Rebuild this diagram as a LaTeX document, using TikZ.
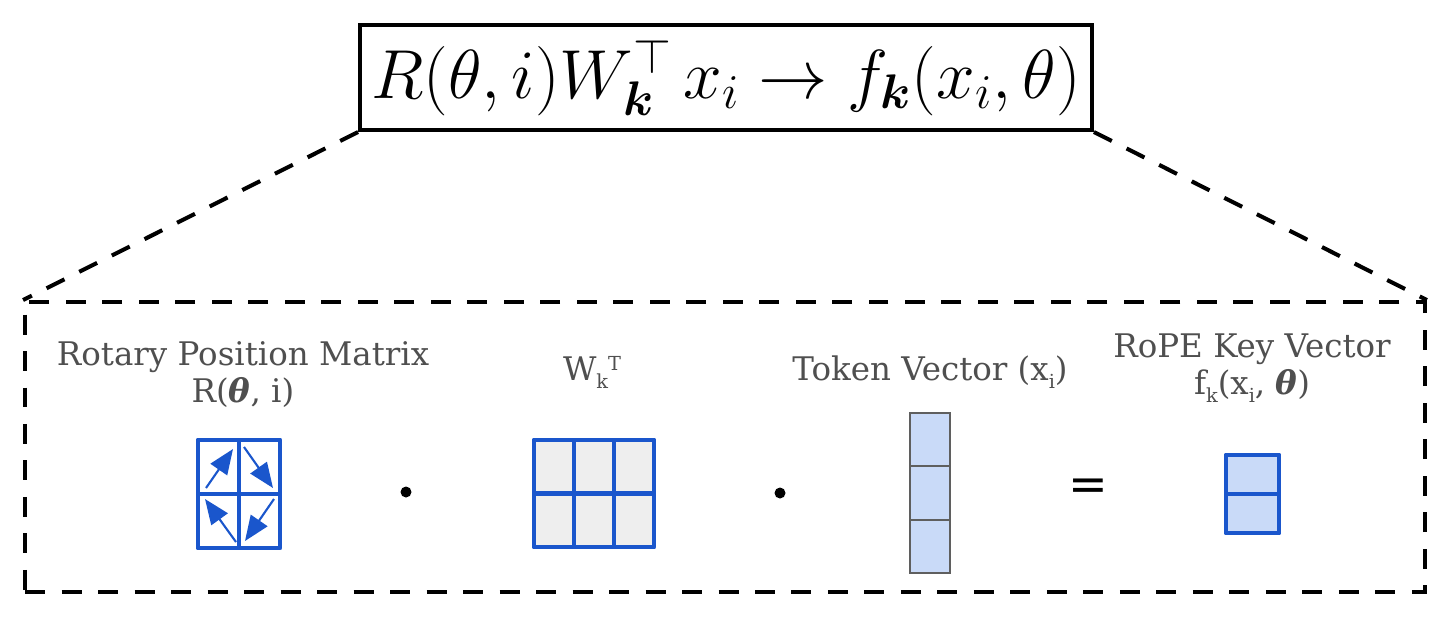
\documentclass[tikz,border=0pt]{standalone}
\usepackage{fix-cm}
\usepackage{amsmath}
\usepackage[no-math]{fontspec}
\setmainfont{DejaVu Serif}
\newfontfamily\eqfont{DejaVu Sans}
\usetikzlibrary{arrows.meta}
\definecolor{matblue}{HTML}{1A56CC}
\definecolor{vecfill}{HTML}{C9DAF8}
\definecolor{cellgray}{HTML}{EEEEEE}
\definecolor{lblgray}{HTML}{4F4F4F}
\definecolor{vecedge}{HTML}{5F5F5F}
\newcommand{\lowsub}[1]{\raisebox{-5pt}{\fontsize{11}{11}\selectfont #1}}
\newcommand{\lowsup}[1]{\raisebox{5.5pt}{\fontsize{11}{11}\selectfont #1}}

\begin{document}
\begin{tikzpicture}[x=0.02cm, y=-0.02cm,
  lbl/.style = {text=lblgray, align=center, inner sep=0pt,
    font=\fontsize{18.5}{21}\selectfont},
  frame line/.style = {line width=2.3pt, dash pattern=on 0.4cm off 0.33cm},
  bluecell/.style = {draw=matblue, line width=2.8pt, line join=round},
  graycell/.style = {draw=vecedge, line width=1.1pt, fill=vecfill},
  rotarrow/.style = {draw=matblue, fill=matblue, line width=1.2pt,
    -{Triangle[length=0.5cm, width=0.4cm]}}]
  \useasboundingbox (0,0) rectangle (1456,620);
  \node (title) at (726,77.5) [draw, line width=2.3pt, minimum width=14.64cm,
    minimum height=2.1cm, inner sep=0pt]
    {\fontsize{39.5}{42}\selectfont $R(\theta,i)W_{\boldsymbol{k}}^{\top}\,x_i\rightarrow f_{\boldsymbol{k}}(x_i,\theta)$};
  \node (frame) at (725,447) [frame line, draw, minimum width=28cm, minimum height=5.8cm] {};
  \draw[frame line] (title.south west) -- (frame.north west);
  \draw[frame line] (title.south east) -- (frame.north east);

  \node (rotlbl) at (243,402) [lbl, anchor=base]
    {Rotary Position Matrix\\R({\bfseries\itshape θ}, i)};
  \node (wlbl) at (592,380) [lbl, anchor=base] {W\lowsub{k}\lowsup{T}};
  \node (toklbl) at (930,380) [lbl, anchor=base] {Token Vector (x\lowsub{i})};
  \node (ropelbl) at (1252,394) [lbl, anchor=base]
    {RoPE Key Vector\\f\lowsub{k}(x\lowsub{i}, {\bfseries\itshape θ})};

  \foreach \c in {0,1}
    \foreach \r in {0,1}
      \draw[bluecell, fill=white] (198+\c*41,440+\r*54) rectangle ++(41,54);
  \draw[rotarrow] (206,488) -- (233,449);
  \draw[rotarrow] (244,447) -- (273,488);
  \draw[rotarrow] (236,542) -- (205,499);
  \draw[rotarrow] (274,499) -- (245,541);

  \foreach \c in {0,1,2}
    \foreach \r in {0,1}
      \draw[bluecell, fill=cellgray] (534+\c*40,440+\r*53.5) rectangle ++(40,53.5);

  \foreach \r in {0,1,2}
    \draw[graycell] (910,413+\r*53.3) rectangle ++(40,53.3);

  \foreach \r in {0,1}
    \draw[bluecell, fill=vecfill] (1226,455+\r*39) rectangle ++(53,39);

  \fill (406,492) circle (0.11cm);
  \fill (780,493) circle (0.11cm);
  \node (eq) at (1088,490) {\eqfont\fontsize{27}{27}\selectfont =};
\end{tikzpicture}
\end{document}
